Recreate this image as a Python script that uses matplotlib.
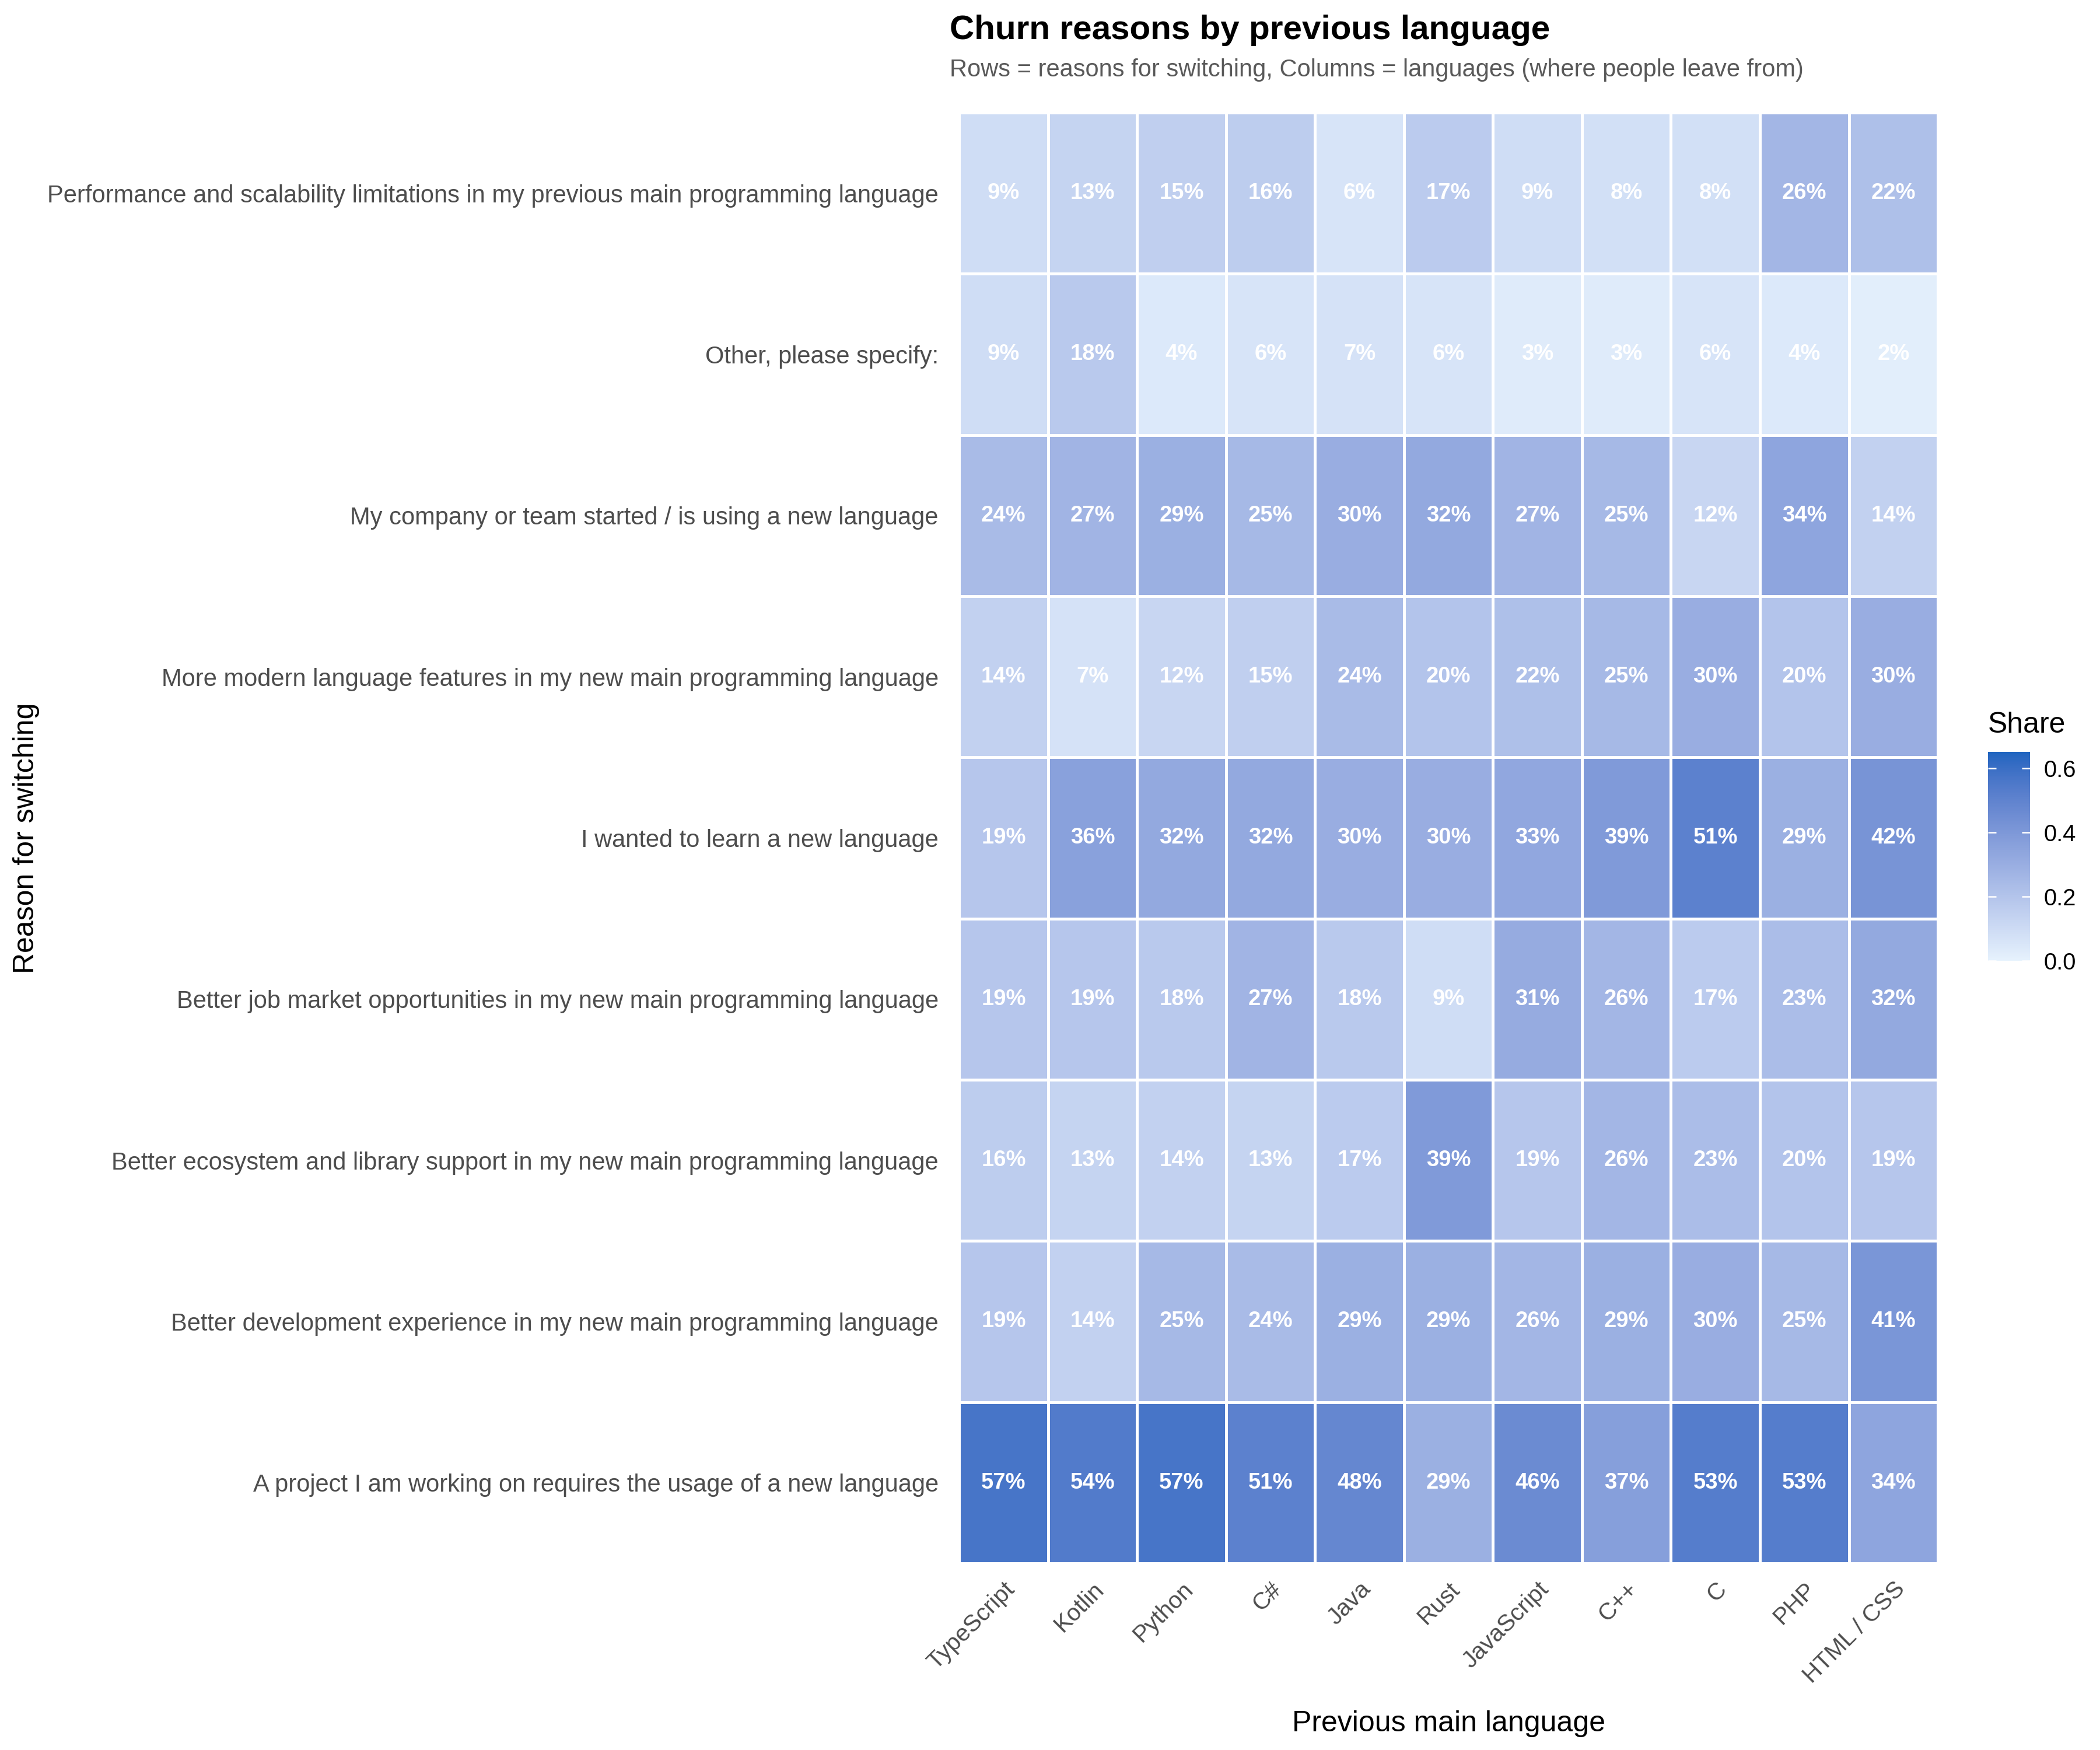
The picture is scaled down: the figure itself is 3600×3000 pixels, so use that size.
import numpy as np
import matplotlib
matplotlib.use("Agg")
import matplotlib.pyplot as plt
from matplotlib.colors import ListedColormap, to_rgb

plt.rcParams['font.family'] = ['Liberation Sans', 'DejaVu Sans']

# data: share of respondents (%) per reason (rows) and previous language (columns)
languages = ['TypeScript', 'Kotlin', 'Python', 'C#', 'Java', 'Rust',
             'JavaScript', 'C++', 'C', 'PHP', 'HTML / CSS']
reasons = [
    'Performance and scalability limitations in my previous main programming language',
    'Other, please specify:',
    'My company or team started / is using a new language',
    'More modern language features in my new main programming language',
    'I wanted to learn a new language',
    'Better job market opportunities in my new main programming language',
    'Better ecosystem and library support in my new main programming language',
    'Better development experience in my new main programming language',
    'A project I am working on requires the usage of a new language',
]
performance = [9, 13, 15, 16, 6, 17, 9, 8, 8, 26, 22]
other = [9, 18, 4, 6, 7, 6, 3, 3, 6, 4, 2]
company = [24, 27, 29, 25, 30, 32, 27, 25, 12, 34, 14]
modern = [14, 7, 12, 15, 24, 20, 22, 25, 30, 20, 30]
learn = [19, 36, 32, 32, 30, 30, 33, 39, 51, 29, 42]
job_market = [19, 19, 18, 27, 18, 9, 31, 26, 17, 23, 32]
ecosystem = [16, 13, 14, 13, 17, 39, 19, 26, 23, 20, 19]
dev_experience = [19, 14, 25, 24, 29, 29, 26, 29, 30, 25, 41]
project = [57, 54, 57, 51, 48, 29, 46, 37, 53, 53, 34]

pct = np.array([performance, other, company, modern, learn,
                job_market, ecosystem, dev_experience, project])
share = pct / 100.0


# gradient interpolated in Lab space (like ggplot's scale_fill_gradient)
def rgb_to_lab(c):
    c = np.asarray(c, dtype=float)
    lin = np.where(c <= 0.04045, c / 12.92, ((c + 0.055) / 1.055) ** 2.4)
    m = np.array([[0.4124, 0.3576, 0.1805],
                  [0.2126, 0.7152, 0.0722],
                  [0.0193, 0.1192, 0.9505]])
    xyz = m @ lin / np.array([0.95047, 1.0, 1.08883])
    f = np.where(xyz > 0.008856, np.cbrt(xyz), 7.787 * xyz + 16 / 116)
    return np.array([116 * f[1] - 16, 500 * (f[0] - f[1]), 200 * (f[1] - f[2])])


def lab_to_rgb(lab):
    L, a, b = lab
    fy = (L + 16) / 116
    fx = fy + a / 500
    fz = fy - b / 200
    f = np.array([fx, fy, fz])
    xyz = np.where(f ** 3 > 0.008856, f ** 3, (f - 16 / 116) / 7.787)
    xyz = xyz * np.array([0.95047, 1.0, 1.08883])
    minv = np.array([[3.2406, -1.5372, -0.4986],
                     [-0.9689, 1.8758, 0.0415],
                     [0.0557, -0.2040, 1.0570]])
    lin = minv @ xyz
    c = np.where(lin <= 0.0031308, 12.92 * lin, 1.055 * np.abs(lin) ** (1 / 2.4) - 0.055)
    return np.clip(c, 0, 1)


low = rgb_to_lab(to_rgb('#E6F2FD'))
high = rgb_to_lab(to_rgb('#1E65C0'))
cols = [lab_to_rgb(low + t * (high - low)) for t in np.linspace(0, 1, 256)]
cmap = ListedColormap(cols)
vmin, vmax = 0.0, 0.65

fig = plt.figure(figsize=(12, 10), dpi=300)
ax = fig.add_axes([0.4567, 0.1067, 0.4661, 0.829])

mesh = ax.pcolormesh(np.arange(len(languages) + 1), np.arange(len(reasons) + 1), share,
                     cmap=cmap, vmin=vmin, vmax=vmax,
                     edgecolors='white', linewidth=1.1)
ax.set_xlim(0, len(languages))
ax.set_ylim(len(reasons), 0)

for i in range(len(reasons)):
    for j in range(len(languages)):
        ax.text(j + 0.5, i + 0.5, f"{pct[i, j]}%", ha='center', va='center',
                color='white', fontsize=9.2, fontweight='bold')

ax.set_xticks(np.arange(len(languages)) + 0.5)
ax.set_xticklabels(languages, rotation=45, ha='right', va='top',
                   rotation_mode='anchor', fontsize=9.8, color='#4D4D4D')
ax.set_yticks(np.arange(len(reasons)) + 0.5)
ax.set_yticklabels(reasons, fontsize=10, color='#4D4D4D')
ax.tick_params(axis='both', length=0)
ax.tick_params(axis='y', pad=8.5)
ax.tick_params(axis='x', pad=6)
for s in ax.spines.values():
    s.set_visible(False)

fig.text(0.0125, (0.1067 + 0.9357) / 2, 'Reason for switching', rotation=90,
         ha='center', va='center', fontsize=12, color='black')
fig.text((0.4567 + 0.9228) / 2, 0.015, 'Previous main language',
         ha='center', va='center', fontsize=12, color='black')

fig.text(0.4522, 0.9777, 'Churn reasons by previous language',
         fontsize=14.0, fontweight='bold', ha='left', va='baseline')
fig.text(0.4522, 0.9563,
         'Rows = reasons for switching, Columns = languages (where people leave from)',
         fontsize=10, color='#595959', ha='left', va='baseline')

cax = fig.add_axes([0.9467, 0.451, 0.02, 0.1193])
cbar = fig.colorbar(mesh, cax=cax, ticks=[0.0, 0.2, 0.4, 0.6])
cbar.outline.set_visible(False)
cbar.ax.set_yticklabels(['0.0', '0.2', '0.4', '0.6'])
cbar.ax.tick_params(direction='in', color='white', length=3.4, width=0.6,
                    left=True, right=True, labelsize=9.6, pad=5.5)
cbar.ax.set_title('Share', loc='left', fontsize=12, pad=8)

fig.savefig('out.png', dpi=300)
